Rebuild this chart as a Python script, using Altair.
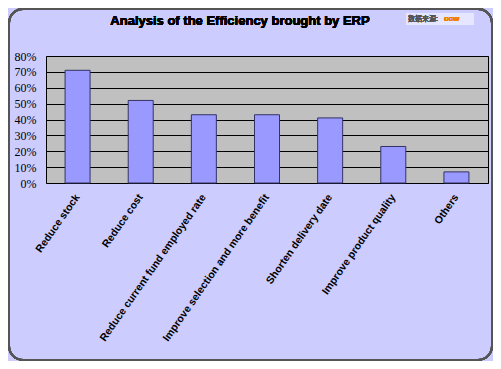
import altair as alt
import pandas as pd

categories = [
    "Reduce stock",
    "Reduce cost",
    "Reduce current fund employed rate",
    "Improve selection and more benefit",
    "Shorten delivery date",
    "Improve product quality",
    "Others",
]
values = [0.71, 0.52, 0.43, 0.43, 0.41, 0.23, 0.07]
title_text = "Analysis of the Efficiency brought by ERP"

df = pd.DataFrame({"item": categories, "share": values})

W, H = 442, 127

bars = alt.Chart(df).mark_bar(
    color="#9999FF", stroke="#333366", strokeWidth=1, size=25
).encode(
    x=alt.X(
        "item:N",
        sort=categories,
        title=None,
        scale=alt.Scale(paddingInner=0, paddingOuter=0),
        axis=alt.Axis(
            labelAngle=-55,
            labelAlign="right",
            labelBaseline="middle",
            labelFont="Liberation Sans",
            labelFontSize=10.5,
            labelFontWeight="bold",
            labelColor="#000000",
            labelPadding=12,
            ticks=False,
            domain=False,
            labelLimit=300,
        ),
    ),
    y=alt.Y(
        "share:Q",
        title=None,
        scale=alt.Scale(domain=[0, 0.8]),
        axis=alt.Axis(
            values=[0, 0.1, 0.2, 0.3, 0.4, 0.5, 0.6, 0.7, 0.8],
            format=".0%",
            labelFont="Liberation Serif",
            labelFontSize=12,
            labelColor="#000000",
            labelPadding=10,
            ticks=False,
            domain=False,
            grid=True,
            gridColor="#000000",
            gridWidth=1,
            gridOpacity=1,
        ),
    ),
)

frame = alt.Chart(df).mark_rect(
    fill=None, stroke="#555555", strokeWidth=2, cornerRadius=14
).encode(
    x=alt.value(-37), x2=alt.value(W + 4), y=alt.value(-47), y2=alt.value(H + 177)
)

title = alt.Chart(df).mark_text(
    text=title_text, font="Liberation Sans", fontSize=13, fontWeight="bold",
    color="#000000", align="center", baseline="middle"
).encode(x=alt.value(194), y=alt.value(-35))

source_box = alt.Chart(df).mark_rect(fill="#E6E6FF").encode(
    x=alt.value(360), x2=alt.value(428), y=alt.value(-43), y2=alt.value(-31)
)

source = alt.Chart(df).mark_text(
    text="数据来源:", font="Noto Sans CJK SC", fontSize=7, color="#555555",
    align="left", baseline="middle"
).encode(x=alt.value(362), y=alt.value(-37))

logo = alt.Chart(df).mark_text(
    text="ccw", font="Liberation Sans", fontSize=8, fontWeight="bold",
    color="#F08000", align="left", baseline="middle"
).encode(x=alt.value(398), y=alt.value(-37))

chart = alt.layer(frame, bars, title, source_box, source, logo).properties(
    width=W,
    height=H,
    background="#CCCCFF",
    padding={"left": 38, "top": 48, "right": 5, "bottom": 178},
    autosize=alt.AutoSizeParams(type="none"),
).configure_view(fill="#C0C0C0", stroke="#000000", strokeWidth=1)

chart.save("out.html", embed_options={"renderer": "svg", "actions": False})
